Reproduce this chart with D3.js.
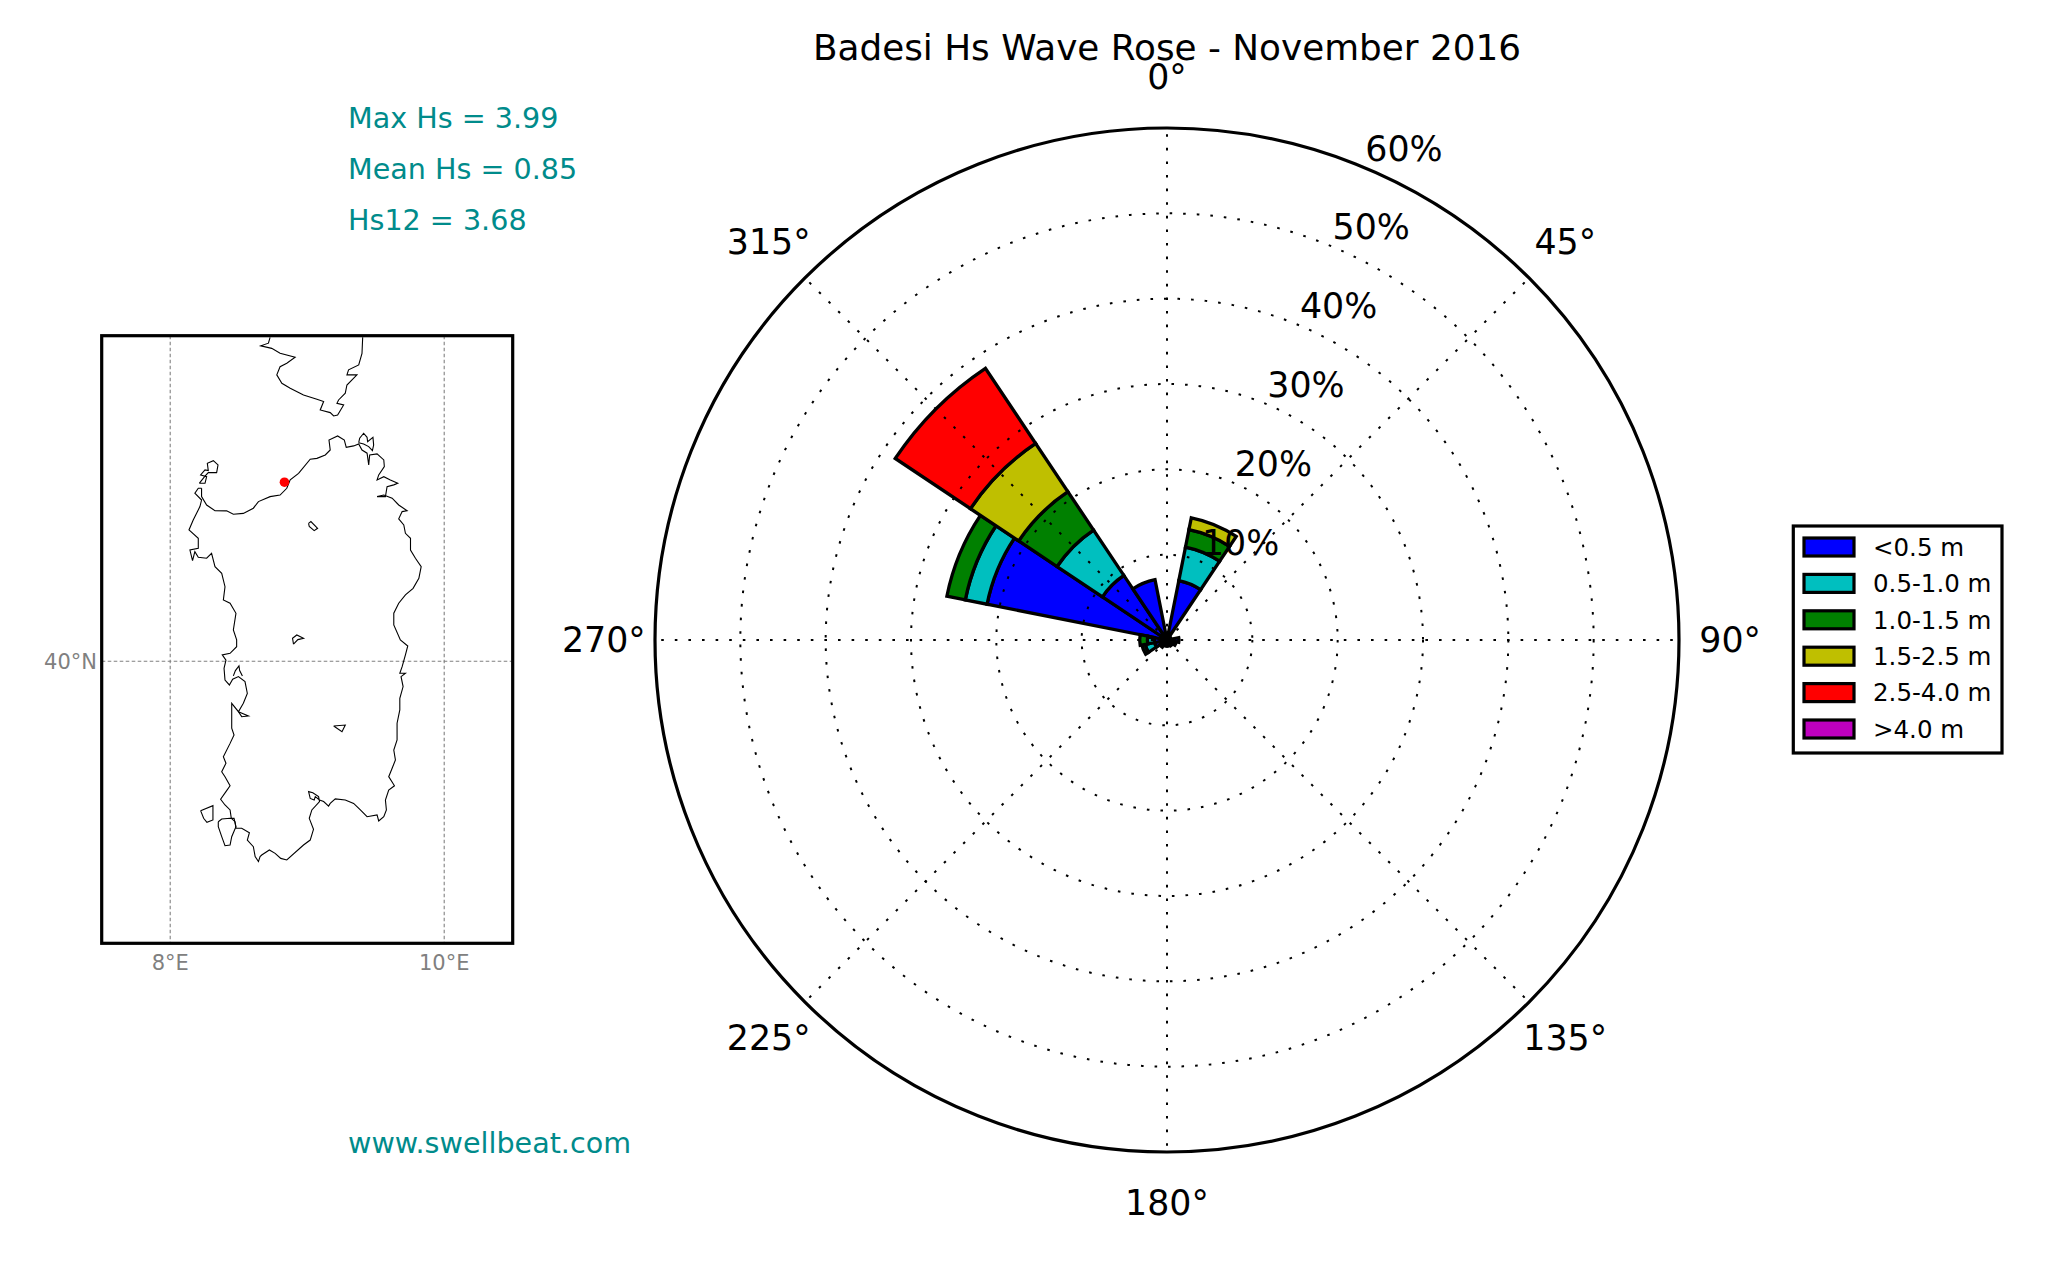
<!DOCTYPE html>
<html>
<head>
<meta charset="utf-8">
<script src="https://cdn.jsdelivr.net/npm/d3@7"></script>
<style>
  html, body { margin: 0; padding: 0; background: #fff; }
  text { font-family: "DejaVu Sans", sans-serif; }
</style>
</head>
<body>
<div id="main-container"></div>
<script>
// DATA
const directions = [0, 22.5, 45, 67.5, 90, 112.5, 135, 157.5, 180, 202.5, 225, 247.5, 270, 292.5, 315, 337.5];
const hsClasses = ["<0.5 m", "0.5-1.0 m", "1.0-1.5 m", "1.5-2.5 m", "2.5-4.0 m", ">4.0 m"];
const classColours = ["#0000ff", "#00bfbf", "#008000", "#bfbf00", "#ff0000", "#bf00bf"];

const hsUnder05 = [0.5, 7.1, 0.4, 0.5, 1.4, 1.1, 0.8, 0.7, 0.7, 0.7, 1.0, 1.5, 1.5, 21.5, 9.1, 7.2];
const hs05to10 = [0, 4.0, 0, 0, 0, 0, 0, 0, 0, 0, 0, 1.1, 0.8, 2.6, 6.4, 0];
const hs10to15 = [0, 2.1, 0, 0, 0, 0, 0, 0, 0, 0, 0, 0.4, 0.9, 2.2, 5.4, 0];
const hs15to25 = [0, 1.4, 0, 0, 0, 0, 0, 0, 0, 0, 0, 0, 0, 0, 6.8, 0];
const hs25to40 = [0, 0, 0, 0, 0, 0, 0, 0, 0, 0, 0, 0, 0, 0, 10.6, 0];
const hsOver40 = [0, 0, 0, 0, 0, 0, 0, 0, 0, 0, 0, 0, 0, 0, 0, 0];

const radialTicks = [10, 20, 30, 40, 50, 60];
const angleTicks = [0, 45, 90, 135, 180, 225, 270, 315];

const statLines = ["Max Hs = 3.99", "Mean Hs = 0.85", "Hs12 = 3.68"];

// coastlines as [lon, lat]
const sardinia = [[8.229,40.972],[8.229,40.925],[8.266,40.878],[8.327,40.846],[8.412,40.845],[8.461,40.826],[8.534,40.831],[8.607,40.860],[8.644,40.897],[8.729,40.925],[8.802,40.934],[8.851,40.972],[8.876,41.019],[8.937,41.056],[9.022,41.135],[9.071,41.140],[9.132,41.159],[9.168,41.187],[9.159,41.243],[9.222,41.266],[9.271,41.243],[9.285,41.202],[9.339,41.210],[9.376,41.221],[9.400,41.187],[9.437,41.169],[9.449,41.103],[9.456,41.159],[9.510,41.165],[9.559,41.131],[9.563,41.094],[9.522,41.047],[9.510,41.019],[9.559,41.037],[9.607,41.019],[9.661,41.000],[9.632,40.991],[9.583,40.981],[9.571,40.925],[9.510,40.925],[9.559,40.934],[9.620,40.916],[9.668,40.878],[9.729,40.846],[9.693,40.841],[9.668,40.800],[9.705,40.766],[9.717,40.719],[9.754,40.691],[9.754,40.625],[9.790,40.579],[9.832,40.532],[9.815,40.466],[9.773,40.410],[9.717,40.373],[9.668,40.326],[9.632,40.270],[9.632,40.204],[9.680,40.120],[9.734,40.086],[9.717,40.036],[9.693,39.970],[9.676,39.933],[9.717,39.933],[9.685,39.914],[9.700,39.858],[9.676,39.792],[9.676,39.727],[9.656,39.652],[9.656,39.558],[9.632,39.502],[9.644,39.446],[9.620,39.399],[9.595,39.352],[9.637,39.301],[9.595,39.277],[9.571,39.221],[9.578,39.165],[9.559,39.127],[9.522,39.103],[9.510,39.137],[9.437,39.127],[9.388,39.165],[9.339,39.202],[9.278,39.221],[9.205,39.227],[9.168,39.202],[9.156,39.187],[9.120,39.212],[9.090,39.221],[9.059,39.240],[9.051,39.221],[9.022,39.230],[9.010,39.268],[9.041,39.262],[9.083,39.240],[9.090,39.212],[9.034,39.165],[9.015,39.118],[9.046,39.056],[9.022,38.996],[8.973,38.968],[8.851,38.884],[8.807,38.893],[8.766,38.921],[8.724,38.940],[8.668,38.912],[8.656,38.903],[8.644,38.875],[8.620,38.903],[8.607,38.959],[8.563,38.996],[8.578,39.037],[8.522,39.062],[8.480,39.062],[8.473,39.099],[8.446,39.118],[8.437,39.165],[8.400,39.193],[8.368,39.225],[8.407,39.268],[8.437,39.301],[8.400,39.352],[8.376,39.380],[8.407,39.427],[8.388,39.464],[8.437,39.539],[8.466,39.586],[8.449,39.624],[8.449,39.670],[8.449,39.764],[8.498,39.717],[8.534,39.764],[8.563,39.820],[8.546,39.886],[8.498,39.914],[8.456,39.899],[8.432,39.867],[8.400,39.895],[8.393,39.961],[8.407,40.007],[8.380,40.036],[8.437,40.045],[8.485,40.082],[8.485,40.120],[8.461,40.176],[8.480,40.270],[8.437,40.326],[8.388,40.345],[8.400,40.419],[8.376,40.494],[8.327,40.532],[8.302,40.607],[8.266,40.579],[8.205,40.584],[8.180,40.616],[8.163,40.566],[8.144,40.625],[8.205,40.635],[8.205,40.691],[8.137,40.738],[8.168,40.794],[8.217,40.869],[8.229,40.906],[8.180,40.944],[8.205,40.972],[8.229,40.972]];
const asinara = [[8.212,41.000],[8.254,41.000],[8.266,41.037],[8.222,41.047],[8.254,41.075],[8.278,41.071],[8.271,41.112],[8.315,41.127],[8.349,41.103],[8.339,41.060],[8.278,41.060],[8.254,41.040],[8.212,41.000]];
const corsica = [[8.729,41.820],[8.717,41.787],[8.661,41.772],[8.741,41.758],[8.802,41.730],[8.912,41.708],[8.851,41.674],[8.802,41.655],[8.778,41.609],[8.815,41.562],[8.876,41.534],[8.973,41.496],[9.071,41.472],[9.120,41.459],[9.095,41.412],[9.168,41.397],[9.193,41.378],[9.222,41.384],[9.266,41.440],[9.217,41.449],[9.229,41.468],[9.278,41.506],[9.290,41.552],[9.363,41.609],[9.290,41.609],[9.302,41.637],[9.376,41.665],[9.400,41.730],[9.405,41.820]];
const santAntioco = [[8.351,39.099],[8.376,39.114],[8.437,39.118],[8.466,39.118],[8.480,39.071],[8.449,39.015],[8.437,38.968],[8.400,38.964],[8.376,39.015],[8.351,39.071],[8.351,39.099]];
const sanPietro = [[8.222,39.161],[8.312,39.189],[8.312,39.109],[8.268,39.096],[8.244,39.118],[8.222,39.161]];
const maddalena = [[9.376,41.228],[9.383,41.253],[9.412,41.281],[9.437,41.258],[9.441,41.234],[9.480,41.258],[9.485,41.215],[9.476,41.184],[9.449,41.206],[9.412,41.221],[9.376,41.228]];
const lakeCoghinas = [[9.010,40.775],[9.027,40.785],[9.076,40.747],[9.051,40.734],[9.015,40.757],[9.010,40.775]];
const lakeOmodeo = [[8.900,40.097],[8.893,40.129],[8.924,40.148],[8.973,40.129],[8.932,40.122],[8.900,40.097]];
const lakeFlumendosa = [[9.193,39.637],[9.278,39.642],[9.254,39.605],[9.193,39.637]];
const oristanoSpit = [[8.461,39.918],[8.476,39.948],[8.502,39.974],[8.507,39.948],[8.527,39.918]];
const marceddiSpit = [[8.498,39.717],[8.571,39.693],[8.522,39.689],[8.498,39.717]];
const coastlines = [sardinia, asinara, corsica, santAntioco, sanPietro, maddalena, lakeCoghinas, lakeOmodeo, lakeFlumendosa, oristanoSpit, marceddiSpit];

const meridians = [8, 10];
const parallels = [40];
const site = [8.834, 41.006];

// LAYOUT
const rose = {cx: 1167, cy: 640, radius: 512};
const map = {left: 101.7, right: 512.7, top: 335.7, bottom: 943.3};
const legend = {left: 1793.3, right: 2002, top: 526, bottom: 753};

const svg = d3.select("#main-container")
    .append("svg")
        .attr("width", 2048)
        .attr("height", 1280)
        .style("display", "block");

svg.append("text")
    .attr("x", 1167)
    .attr("y", 60)
    .attr("text-anchor", "middle")
    .style("font-size", "35.8px")
    .text("Badesi Hs Wave Rose - November 2016");

// ROSE
const r = d3.scaleLinear().domain([0, 60]).range([0, rose.radius]);
const sectorWidth = 2 * Math.PI / directions.length;
const rad = (d) => d * Math.PI / 180;

const g = svg.append("g")
    .attr("transform", `translate(${rose.cx}, ${rose.cy})`);

const rows = directions.map((d, i) => ({
    dir: d, 0: hsUnder05[i], 1: hs05to10[i], 2: hs10to15[i], 3: hs15to25[i], 4: hs25to40[i], 5: hsOver40[i]
}));
const stacked = d3.stack().keys([0, 1, 2, 3, 4, 5])(rows);
const arc = d3.arc();

stacked.forEach((layer, k) => {
    g.selectAll(null)
        .data(layer.filter((d) => d[1] > d[0]))
        .enter()
        .append("path")
        .attr("d", (d) => arc({
            innerRadius: r(d[0]),
            outerRadius: r(d[1]),
            startAngle: rad(d.data.dir) - sectorWidth / 2,
            endAngle: rad(d.data.dir) + sectorWidth / 2
        }))
        .style("fill", classColours[k])
        .style("stroke", "#000")
        .style("stroke-width", 3.3);
});

// grid goes over the bars
const dotted = "2.6 11";
g.selectAll(null)
    .data(radialTicks.slice(0, -1))
    .enter()
    .append("circle")
    .attr("r", (d) => r(d))
    .style("fill", "none")
    .style("stroke", "#000")
    .style("stroke-width", 2)
    .style("stroke-dasharray", dotted);

g.selectAll(null)
    .data(angleTicks)
    .enter()
    .append("line")
    .attr("x2", (d) => r(60) * Math.sin(rad(d)))
    .attr("y2", (d) => -r(60) * Math.cos(rad(d)))
    .style("stroke", "#000")
    .style("stroke-width", 2)
    .style("stroke-dasharray", dotted);

g.append("circle")
    .attr("r", r(60))
    .style("fill", "none")
    .style("stroke", "#000")
    .style("stroke-width", 3.2);

g.selectAll(null)
    .data(angleTicks)
    .enter()
    .append("text")
    .attr("x", (d) => r(66) * Math.sin(rad(d)))
    .attr("y", (d) => -r(66) * Math.cos(rad(d)))
    .attr("dy", "0.34em")
    .attr("text-anchor", "middle")
    .style("font-size", "34.8px")
    .text((d) => `${d}°`);

g.selectAll(null)
    .data(radialTicks)
    .enter()
    .append("text")
    .attr("x", (d) => r(d) * Math.sin(rad(22.5)) + 41)
    .attr("y", (d) => -r(d) * Math.cos(rad(22.5)) - 19)
    .attr("dy", "0.36em")
    .attr("text-anchor", "middle")
    .style("font-size", "34.8px")
    .text((d) => `${d}%`);

// LEGEND
const legendRow = d3.scalePoint()
    .domain(hsClasses)
    .range([547, 729]);

svg.append("rect")
    .attr("x", legend.left)
    .attr("y", legend.top)
    .attr("width", legend.right - legend.left)
    .attr("height", legend.bottom - legend.top)
    .style("fill", "#fff")
    .style("stroke", "#000")
    .style("stroke-width", 3.2);

hsClasses.forEach((name, i) => {
    svg.append("rect")
        .attr("x", 1804)
        .attr("y", legendRow(name) - 9)
        .attr("width", 50)
        .attr("height", 18)
        .style("fill", classColours[i])
        .style("stroke", "#000")
        .style("stroke-width", 3.2);
    svg.append("text")
        .attr("x", 1873)
        .attr("y", legendRow(name))
        .attr("dy", "0.36em")
        .style("font-size", "24.5px")
        .text(name);
});

// STATS
const teal = "#008b8b";
const statY = d3.scalePoint().domain(statLines).range([128, 230]);
svg.selectAll(null)
    .data(statLines)
    .enter()
    .append("text")
    .attr("x", 348)
    .attr("y", (d) => statY(d))
    .style("font-size", "28.6px")
    .style("fill", teal)
    .text((d) => d);

svg.append("text")
    .attr("x", 348)
    .attr("y", 1153)
    .style("font-size", "28.6px")
    .style("fill", teal)
    .text("www.swellbeat.com");

// MAP
const lonScale = d3.scaleLinear().domain([7.5, 10.5]).range([map.left, map.right]);
const latScale = d3.scaleLinear().domain([38.416, 41.829]).range([map.bottom, map.top]);
const coastLine = d3.line().x((d) => lonScale(d[0])).y((d) => latScale(d[1]));

svg.append("clipPath")
    .attr("id", "map-clip")
    .append("rect")
    .attr("x", map.left)
    .attr("y", map.top)
    .attr("width", map.right - map.left)
    .attr("height", map.bottom - map.top);

const mapG = svg.append("g").attr("clip-path", "url(#map-clip)");

mapG.selectAll(null)
    .data(meridians)
    .enter()
    .append("line")
    .attr("x1", (d) => lonScale(d))
    .attr("x2", (d) => lonScale(d))
    .attr("y1", map.top)
    .attr("y2", map.bottom)
    .style("stroke", "#808080")
    .style("stroke-width", 1.1)
    .style("stroke-dasharray", "3.6 2.4");

mapG.selectAll(null)
    .data(parallels)
    .enter()
    .append("line")
    .attr("x1", map.left)
    .attr("x2", map.right)
    .attr("y1", (d) => latScale(d))
    .attr("y2", (d) => latScale(d))
    .style("stroke", "#808080")
    .style("stroke-width", 1.1)
    .style("stroke-dasharray", "3.6 2.4");

mapG.selectAll(null)
    .data(coastlines)
    .enter()
    .append("path")
    .attr("d", (d) => coastLine(d))
    .style("fill", "none")
    .style("stroke", "#000")
    .style("stroke-width", 1.1);

mapG.append("circle")
    .attr("cx", lonScale(site[0]))
    .attr("cy", latScale(site[1]))
    .attr("r", 4.8)
    .style("fill", "#ff0000");

svg.append("rect")
    .attr("x", map.left)
    .attr("y", map.top)
    .attr("width", map.right - map.left)
    .attr("height", map.bottom - map.top)
    .style("fill", "none")
    .style("stroke", "#000")
    .style("stroke-width", 3.2);

svg.selectAll(null)
    .data(meridians)
    .enter()
    .append("text")
    .attr("x", (d) => lonScale(d))
    .attr("y", 962)
    .attr("dy", "0.36em")
    .attr("text-anchor", "middle")
    .style("font-size", "21px")
    .style("fill", "#808080")
    .text((d) => `${d}°E`);

svg.selectAll(null)
    .data(parallels)
    .enter()
    .append("text")
    .attr("x", 97)
    .attr("y", (d) => latScale(d))
    .attr("dy", "0.36em")
    .attr("text-anchor", "end")
    .style("font-size", "21px")
    .style("fill", "#808080")
    .text((d) => `${d}°N`);
</script>
</body>
</html>
